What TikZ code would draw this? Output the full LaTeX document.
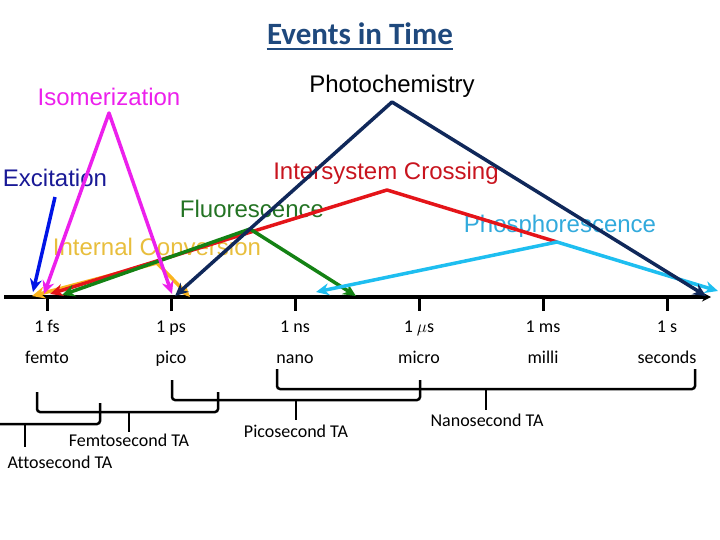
\documentclass[tikz,border=0pt]{standalone}
\usepackage{fontspec}
\setmainfont{Carlito}[Ligatures=CommonOff]
\newfontfamily\arialfont{Liberation Sans}
\usetikzlibrary{arrows.meta,calc}
\definecolor{ttlblue}{RGB}{31,73,125}
\definecolor{isocol}{RGB}{236,32,236}
\definecolor{photocol}{RGB}{16,40,90}
\definecolor{exccol}{RGB}{0,20,230}
\definecolor{exctxt}{RGB}{25,25,150}
\definecolor{isccol}{RGB}{228,20,25}
\definecolor{isctxt}{RGB}{200,20,30}
\definecolor{fluocol}{RGB}{20,130,20}
\definecolor{fluotxt}{RGB}{35,115,35}
\definecolor{phoscol}{RGB}{30,190,240}
\definecolor{phostxt}{RGB}{50,170,220}
\definecolor{iccol}{RGB}{250,180,30}
\definecolor{ictxt}{RGB}{232,190,60}
\tikzset{
    proc/.style={line width=3.5pt,line join=round,>={Stealth[length=13pt,width=12pt]}},
    lbl/.style={font=\arialfont\fontsize{24}{28}\selectfont,anchor=base,inner sep=0pt},
    tick label/.style={font=\fontsize{18}{22}\selectfont,anchor=base,inner sep=0pt},
    brace/.style={-,line width=2.5pt,rounded corners=3pt},
}

\begin{document}
\begin{tikzpicture}[->,>=stealth,x=1pt,y=-1pt,thick]
    \useasboundingbox (0,0) rectangle (720,540);

    % title
    \node[font=\bfseries\fontsize{31}{36}\selectfont,text=ttlblue,anchor=base,inner sep=0pt] (title) at (360,45) {Events in Time};
    \draw[-,ttlblue,line width=2pt] ([yshift=-4pt]title.base west) -- ([yshift=-4pt]title.base east);

    % process labels
    \node[lbl,text=isocol] (iso) at (109,106) {Isomerization};
    \node[lbl,text=black] (photo) at (392,93) {Photochemistry};
    \node[lbl,text=exctxt] (exc) at (55,187) {Excitation};
    \node[lbl,text=isctxt] (isc) at (386,180) {Intersystem Crossing};
    \node[lbl,text=fluotxt] (fluo) at (252,218) {Fluorescence};
    \node[lbl,text=phostxt] (phos) at (560,233) {Phosphorescence};
    \node[lbl,text=ictxt] (ic) at (157,255) {Internal Conversion};

    % time axis
    \coordinate (axL) at (4,297);
    \coordinate (axR) at (711,297);
    \draw[line width=3.5pt,-{Stealth[length=9pt,width=9pt]}] (axL) -- (axR);
    \foreach \x/\t/\p [count=\i] in {47/1 fs/femto,171/1 ps/pico,295/1 ns/nano,419/{1 $\mu$s}/micro,543/1 ms/milli,667/1 s/seconds}{
        \draw[-,line width=3pt] (\x,297) -- (\x,311);
        \node[tick label] (t\i) at (\x,332) {\t};
        \node[tick label] (p\i) at (\x,363) {\p};
    }

    % apexes and ends of the processes
    \coordinate (icA) at (157,263);
    \coordinate (icL) at (32,296);
    \coordinate (icR) at (190,297);
    \coordinate (phA) at (557,242);
    \coordinate (iscA) at (387,190);
    \coordinate (iscE) at (50,294);
    \coordinate (fluoA) at (250,229);
    \coordinate (fluoL) at (62,295);
    \coordinate (fluoR) at (356,296);
    \coordinate (phL) at (316,292);
    \coordinate (phR) at (718,291);
    \coordinate (excS) at (55,197);
    \coordinate (excE) at (33,292);
    \coordinate (isoA) at (109,113);
    \coordinate (isoL) at (44,294);
    \coordinate (isoR) at (172,294);
    \coordinate (photoA) at (392,102);
    \coordinate (photoL) at (175,296);
    \coordinate (photoR) at (706,296);

    \draw[proc,iccol,<->] (icL) -- (icA) -- (icR);
    \draw[proc,isccol,->] (phA) -- (iscA) -- (iscE);
    \draw[proc,fluocol,<->] (fluoL) -- (fluoA) -- (fluoR);
    \draw[proc,phoscol,<->] (phL) -- (phA) -- (phR);
    \draw[proc,exccol,->] (excS) -- (excE);
    \draw[proc,isocol,<->] (isoL) -- (isoA) -- (isoR);
    \draw[proc,photocol,<->] (photoL) -- (photoA) -- (photoR);

    % transient absorption ranges
    \draw[brace] (0,424) -- (100,424) -- (100,403);
    \draw[brace] (25,424) -- (25,447);
    \draw[brace] (37,392) -- (37,412) -- (218,412) -- (218,392);
    \draw[brace] (129,412) -- (129,432);
    \draw[brace] (172,380) -- (172,400) -- (420,400) -- (420,380);
    \draw[brace] (296,400) -- (296,420);
    \draw[brace] (277,369) -- (277,389) -- (695,389) -- (695,369);
    \draw[brace] (486,389) -- (486,410);

    \node[tick label] (atto) at (60,468) {Attosecond TA};
    \node[tick label] (femto) at (129,446) {Femtosecond TA};
    \node[tick label] (pico) at (296,437) {Picosecond TA};
    \node[tick label] (nano) at (487,426) {Nanosecond TA};
\end{tikzpicture}
\end{document}
